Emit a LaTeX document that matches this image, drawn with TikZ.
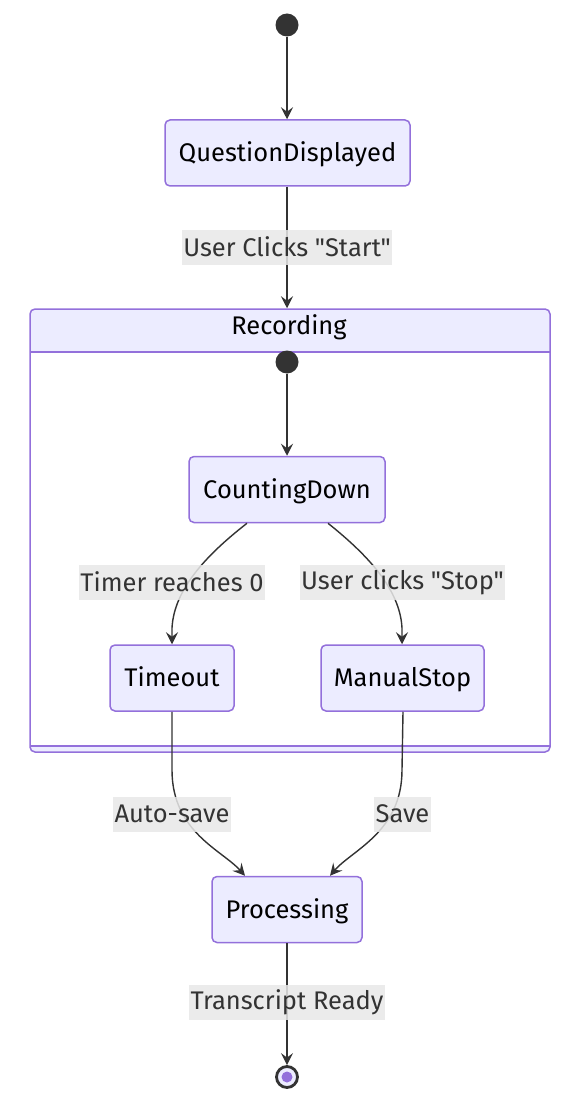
\documentclass[tikz,border=0pt]{standalone}
\usepackage{fontspec}
\newfontfamily\dfont{Fira Sans}
\usetikzlibrary{arrows.meta,calc}
\definecolor{nfill}{HTML}{ECECFF}
\definecolor{nline}{HTML}{9370DB}
\definecolor{eline}{HTML}{333333}
\definecolor{lbg}{HTML}{E8E8E8}
\begin{document}
\begin{tikzpicture}[x=1pt,y=-1pt,
  state/.style={draw=nline, fill=nfill, line width=1.5pt, rounded corners=5pt, inner sep=0pt,
    minimum height=66pt, text height=20pt, text depth=2.4pt,
    font=\dfont\fontsize{25.5}{30}\selectfont, text=black},
  lbl/.style={fill=lbg, fill opacity=0.85, text opacity=1, inner xsep=1.5pt, inner ysep=0pt,
    minimum height=35pt, font=\dfont\fontsize{25.5}{30}\selectfont, text=eline},
  tr/.style={draw=eline, line width=1.4pt, -{Stealth[length=12pt,width=12pt,inset=4.5pt]}},
  startst/.style={circle, fill=eline, inner sep=0pt, minimum size=23pt},
]
\useasboundingbox (0,0) rectangle (581,1102);

% Recording composite
\node (rec) [draw=nline, fill=nfill, line width=1.5pt, rounded corners=5pt, minimum width=520pt,
  minimum height=443pt, inner sep=0pt] at (290,530.5) {};
\fill[white] (30.75,352) rectangle (549.25,746);
\draw[nline, line width=1.5pt] (30,352) -- (550,352);
\draw[nline, line width=1.5pt] (30,746) -- (550,746);
\node (rectitle) [font=\dfont\fontsize{25.5}{30}\selectfont, text=black] at (289,327) {Recording};

% states
\node (s0) [startst] at (287,25) {};
\node (qd) [state, minimum width=245pt] at (287.5,153) {QuestionDisplayed};
\node (s1) [startst] at (287,362) {};
\node (cd) [state, minimum width=196pt] at (287,489.5) {CountingDown};
\node (to) [state, minimum width=124pt] at (172,678) {Timeout};
\node (ms) [state, minimum width=163pt] at (402.5,678) {ManualStop};
\node (pr) [state, minimum width=150pt] at (287,909.5) {Processing};
\node (endo) [circle, draw=eline, line width=2.8pt, fill=nfill, inner sep=0pt, minimum size=21pt] at (287,1077) {};
\node (endi) [circle, fill=nline, inner sep=0pt, minimum size=11pt] at (287,1077) {};

% transitions
\draw[tr] (s0) -- (s0 |- qd.north);
\draw[tr] (qd.south -| s0) -- (s0 |- rec.north);
\draw[tr] (s1) -- (cd.north);
\draw[tr] ([xshift=-40pt]cd.south) .. controls (205,556) and (174,590) .. (172,628) -- (to.north);
\draw[tr] ([xshift=41pt]cd.south) .. controls (369,556) and (400,590) .. (402,628) -- ([xshift=-0.5pt]ms.north);
\draw[tr] (to.south) -- (172,770) .. controls (172,832) and (222,850) .. ([xshift=-42pt]pr.north);
\draw[tr] ([xshift=0.5pt]ms.south) -- (402,770) .. controls (402,832) and (352,850) .. ([xshift=43pt]pr.north);
\draw[tr] (pr.south) -- (endo.north);

% labels
\node (l1) [lbl] at (287,247) {User Clicks "Start"};
\node (l2) [lbl] at (172,582) {Timer reaches 0};
\node (l3) [lbl] at (402.5,582) {User clicks "Stop"};
\node (l4) [lbl] at (172,814) {Auto-save};
\node (l5) [lbl] at (402.5,814) {Save};
\node (l6) [lbl] at (287,1002) {Transcript Ready};
\end{tikzpicture}
\end{document}
